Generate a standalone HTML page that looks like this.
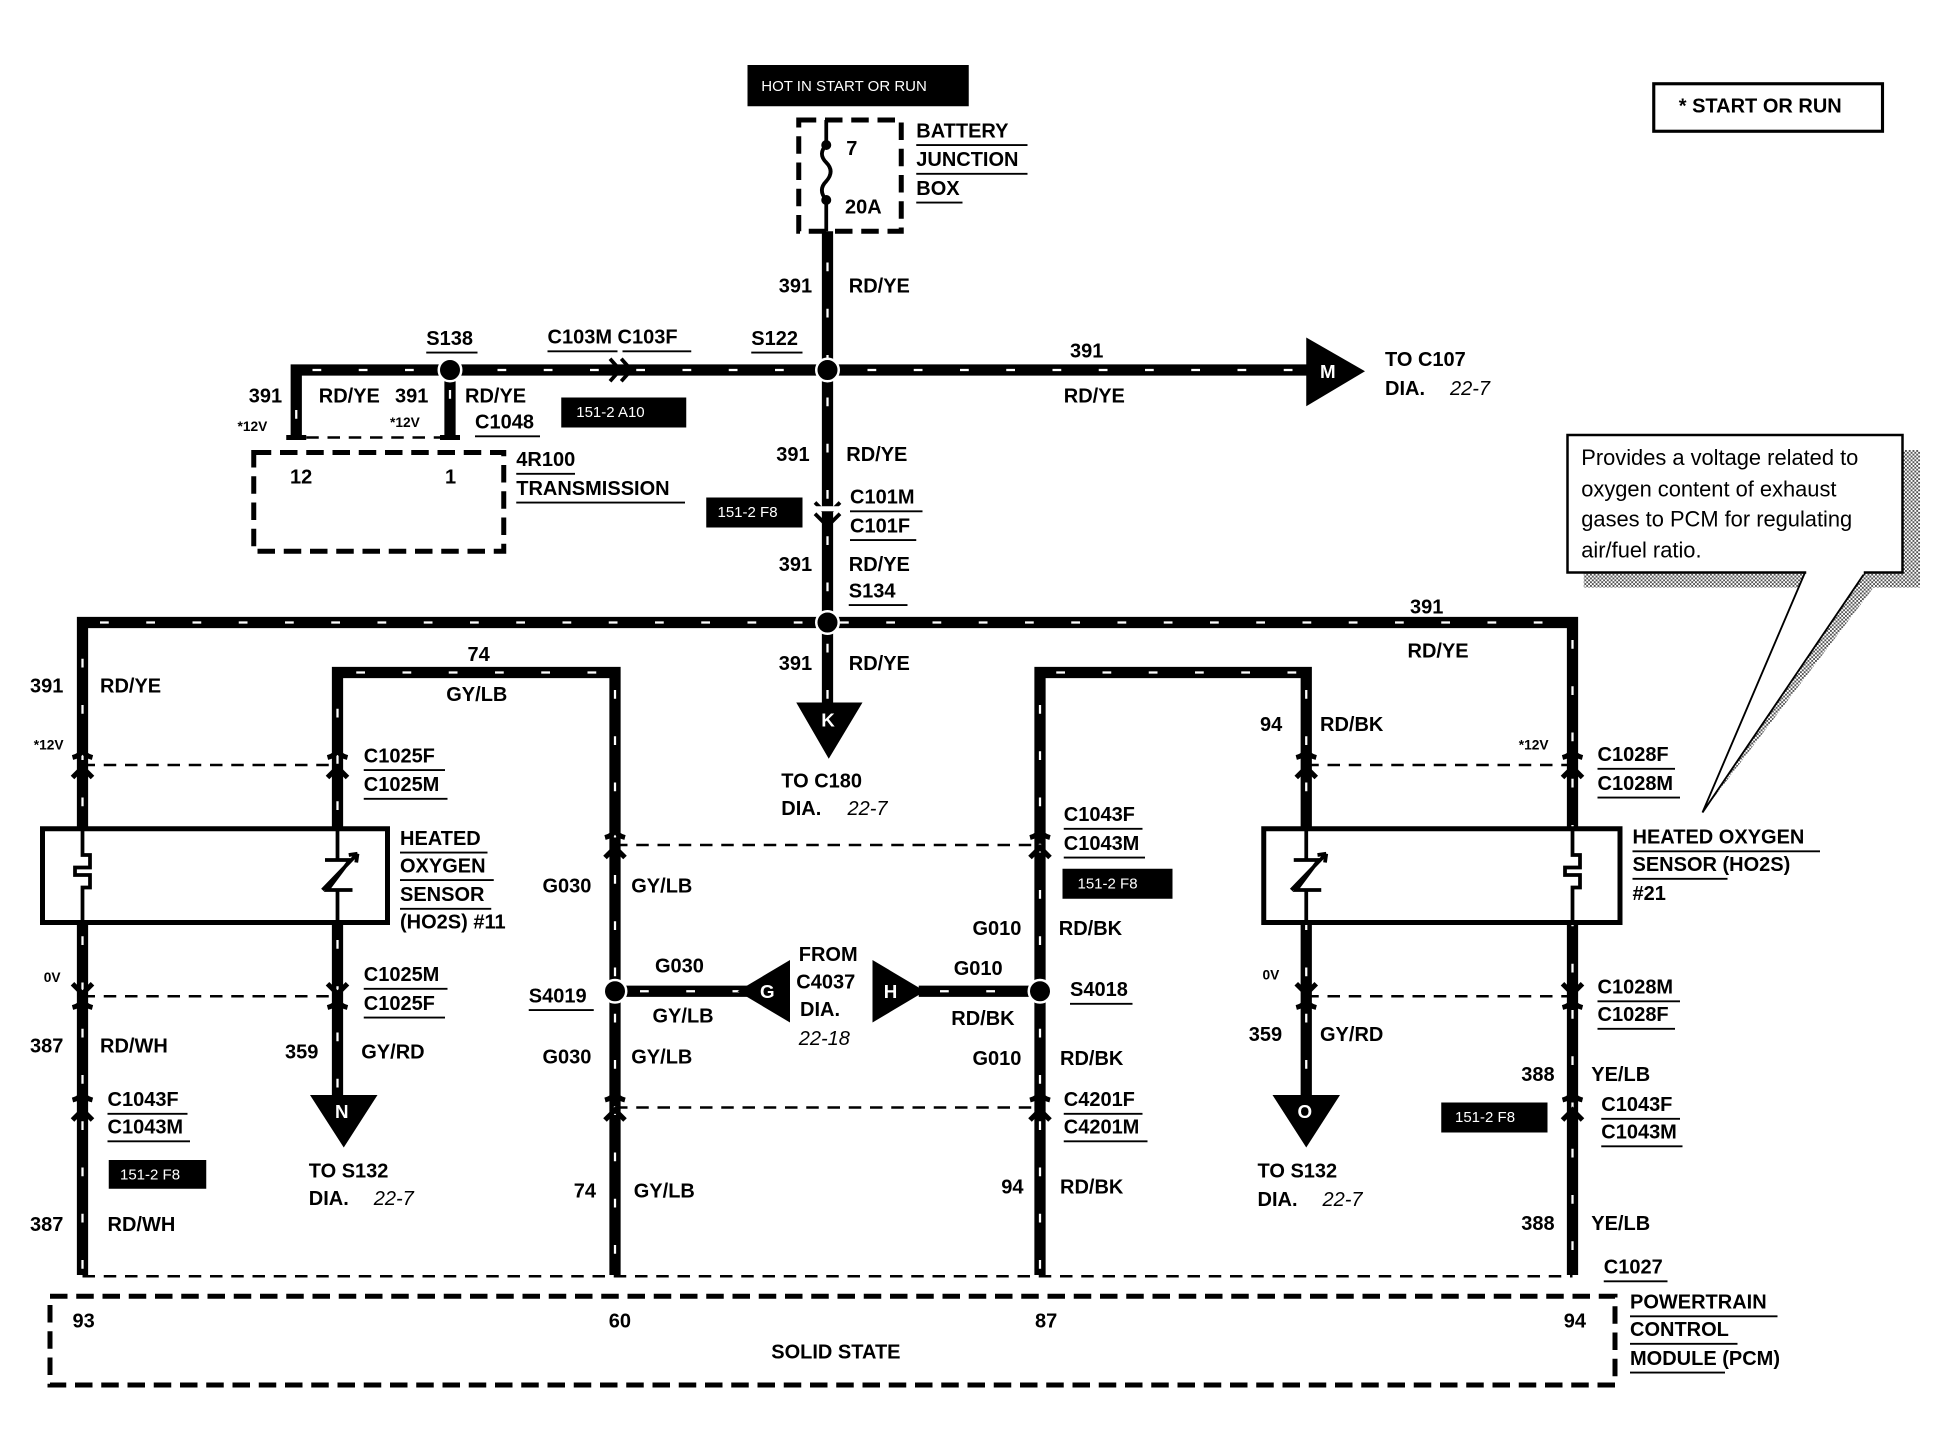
<!DOCTYPE html>
<html><head><meta charset="utf-8"><style>
html,body{margin:0;padding:0;background:#fff}
svg{display:block}
text{font-family:"Liberation Sans",Arial,sans-serif;font-weight:bold;font-size:16px;fill:#000;dominant-baseline:central}
.s{font-size:11px}
.r{font-weight:normal;font-size:17.5px;dominant-baseline:auto}
.i{font-style:italic;font-weight:normal}
.w{fill:#fff;font-weight:normal;font-size:12px}
.wb{fill:#fff;font-size:15px}
.wire{stroke:#000;stroke-width:9;fill:none}
.dash{stroke:#fff;stroke-width:1.8;fill:none;stroke-dasharray:7 30}
.db{stroke:#000;stroke-width:4;fill:none;stroke-dasharray:14 7}
.dl{stroke:#000;stroke-width:2;fill:none;stroke-dasharray:10 7}
.ul{stroke:#000;stroke-width:1.5}
</style></head><body>
<svg width="1958" height="1456" viewBox="0 0 1566.4 1164.8" xmlns="http://www.w3.org/2000/svg">
<defs>
<pattern id="dither" width="3" height="3" patternUnits="userSpaceOnUse"><rect width="3" height="3" fill="#fff"/><rect width="1.5" height="1.5" fill="#555"/><rect x="1.5" y="1.5" width="1.5" height="1.5" fill="#555"/></pattern>
</defs>

<rect x="598" y="52" width="177" height="33" fill="#000"/>
<text x="609" y="69" class="w">HOT IN START OR RUN</text>
<rect x="1323" y="67" width="183" height="38" fill="#fff" stroke="#000" stroke-width="2.5"/>
<text x="1343" y="85">*  START OR RUN</text>

<rect x="639" y="96" width="82" height="89" class="db"/>
<path d="M661 96 V116 M661 160 V185" stroke="#000" stroke-width="3"/>
<path d="M661 116 q-7 7 0 14 q7 7 0 15 q-7 7 0 15" stroke="#000" stroke-width="3" fill="none"/>
<circle cx="661" cy="116" r="4"/><circle cx="661" cy="160" r="4"/>
<text x="677" y="119">7</text><text x="676" y="166">20A</text>
<text x="733" y="105">BATTERY</text><text x="733" y="128">JUNCTION</text><text x="733" y="151">BOX</text>
<path class="ul" d="M733 116H822M733 139H822M733 162H770"/>

<g>
<path class="wire" d="M662 185V296"/><path class="dash" d="M662 210V296"/>
<path class="wire" d="M237 350V296H1048"/><path class="dash" d="M237 335V305M250 296H1040"/>
<path class="wire" d="M360 296V350"/><path class="dash" d="M360 312V345"/>
<path class="wire" d="M662 296V498"/><path class="dash" d="M662 318V495"/>
<path class="wire" d="M66 1020V498H1258V1020"/><path class="dash" d="M66 1015V510M80 498H1250M1258 512V1015"/>
<path class="wire" d="M662 498V565"/><path class="dash" d="M662 515V560"/>
<path class="wire" d="M270 878V538H492V1020"/><path class="dash" d="M270 870V555M285 538H485M492 552V1015"/>
<path class="wire" d="M832 1020V538H1045V878"/><path class="dash" d="M832 1015V555M845 538H1038M1045 552V870"/>
<path class="wire" d="M492 793H600"/><path class="dash" d="M512 793H595"/>
<path class="wire" d="M735 793H832"/><path class="dash" d="M752 793H825"/>
</g>
<g fill="#000" stroke="#fff" stroke-width="2">
<circle cx="360" cy="296" r="9"/><circle cx="662" cy="296" r="9"/><circle cx="662" cy="498" r="9"/>
<circle cx="492" cy="793" r="9"/><circle cx="832" cy="793" r="9"/>
</g>
<path d="M488 287 l8 9 l-8 9 M497 287 l8 9 l-8 9" stroke="#000" stroke-width="3" fill="none"/>
<path d="M652 402 l10 10 l10 -10 M652 411 l10 10 l10 -10" stroke="#000" stroke-width="3" fill="none"/>
<rect x="652" y="405" width="20" height="4" fill="#fff"/>

<path d="M229 350H245M352 350H368" stroke="#000" stroke-width="4"/>
<path class="dl" d="M245 350H352"/>
<rect x="203" y="362" width="200" height="79" class="db"/>
<text x="232" y="382">12</text><text x="356" y="382">1</text>
<text x="413" y="368">4R100</text><text x="413" y="391">TRANSMISSION</text>
<path class="ul" d="M413 379H460M413 402H548"/>
<rect x="449" y="318" width="100" height="24" fill="#000"/><text x="461" y="330" class="w">151-2 A10</text>

<path d="M1045 270L1092 297L1045 325Z"/><text x="1056" y="297" class="wb">M</text>
<path d="M637 562H690L663 607Z"/><text x="657" y="576" class="wb">K</text>
<path d="M248 876H302L275 918Z"/><text x="268" y="889" class="wb">N</text>
<path d="M1018 876H1072L1045 918Z"/><text x="1038" y="889" class="wb">O</text>
<path d="M590 793L632 768V818Z"/><text x="608" y="793" class="wb">G</text>
<path d="M740 793L698 768V818Z"/><text x="707" y="793" class="wb">H</text>

<g stroke="#000" stroke-width="4" fill="none">
<path d="M58 606 q8 -2 8 -8 q0 6 8 8 M58 622 l8 -8 l8 8"/>
<path d="M262 606 q8 -2 8 -8 q0 6 8 8 M262 622 l8 -8 l8 8"/>
<path d="M1037 606 q8 -2 8 -8 q0 6 8 8 M1037 622 l8 -8 l8 8"/>
<path d="M1250 606 q8 -2 8 -8 q0 6 8 8 M1250 622 l8 -8 l8 8"/>
<path d="M58 787 l8 8 l8 -8 M58 806 q8 -2 8 -8 q0 6 8 8"/>
<path d="M262 787 l8 8 l8 -8 M262 806 q8 -2 8 -8 q0 6 8 8"/>
<path d="M1037 787 l8 8 l8 -8 M1037 806 q8 -2 8 -8 q0 6 8 8"/>
<path d="M1250 787 l8 8 l8 -8 M1250 806 q8 -2 8 -8 q0 6 8 8"/>
<path d="M484 670 q8 -2 8 -8 q0 6 8 8 M484 686 l8 -8 l8 8"/>
<path d="M824 670 q8 -2 8 -8 q0 6 8 8 M824 686 l8 -8 l8 8"/>
<path d="M58 880 q8 -2 8 -8 q0 6 8 8 M58 896 l8 -8 l8 8"/>
<path d="M484 880 q8 -2 8 -8 q0 6 8 8 M484 896 l8 -8 l8 8"/>
<path d="M824 880 q8 -2 8 -8 q0 6 8 8 M824 896 l8 -8 l8 8"/>
<path d="M1250 880 q8 -2 8 -8 q0 6 8 8 M1250 896 l8 -8 l8 8"/>
</g>
<path class="dl" d="M66 612H270M1045 612H1258M66 797H270M1045 797H1258M492 676H832M492 886H832M66 1021H1258"/>

<rect x="34" y="663" width="276" height="75" fill="#fff" stroke="#000" stroke-width="4"/>
<rect x="1011" y="663" width="285" height="75" fill="#fff" stroke="#000" stroke-width="4"/>
<path d="M66 663V684H72V694H60V700H72V710H66V738" stroke="#000" stroke-width="3" fill="none"/>
<path d="M1258 663V684H1264V694H1252V700H1264V710H1258V738" stroke="#000" stroke-width="3" fill="none"/>
<g stroke="#000" stroke-width="3" fill="none">
<path d="M270 663V688M260 688H280L262 712H282M270 712V738M258 712L286 683M286 683l-7 1M286 683l-1 7"/>
<path d="M1045 663V688M1035 688H1055L1037 712H1057M1045 712V738M1033 712L1061 683M1061 683l-7 1M1061 683l-1 7"/>
</g>

<rect x="40" y="1037" width="1252" height="71" class="db"/>
<text x="58" y="1057">93</text><text x="487" y="1057">60</text><text x="828" y="1057">87</text><text x="1251" y="1057">94</text>
<text x="617" y="1082">SOLID STATE</text>
<text x="1304" y="1042">POWERTRAIN</text><text x="1304" y="1064">CONTROL</text><text x="1304" y="1087">MODULE (PCM)</text>
<path class="ul" d="M1304 1053H1422M1304 1075H1390M1304 1098H1380"/>

<rect x="565" y="398" width="77" height="24" fill="#000"/><text x="574" y="410" class="w">151-2 F8</text>
<rect x="87" y="928" width="78" height="23" fill="#000"/><text x="96" y="940" class="w">151-2 F8</text>
<rect x="850" y="695" width="88" height="24" fill="#000"/><text x="862" y="707" class="w">151-2 F8</text>
<rect x="1153" y="882" width="85" height="24" fill="#000"/><text x="1164" y="894" class="w">151-2 F8</text>

<path d="M1267 458H1536V470H1267Z" fill="url(#dither)"/>
<path d="M1522 360H1536V470H1522Z" fill="url(#dither)"/>
<path d="M1470 458L1362 650L1508 458Z" fill="url(#dither)"/>
<path d="M1444 458L1362 650L1492 458Z" fill="#fff" stroke="#000" stroke-width="1.5"/>
<rect x="1254" y="348" width="268" height="110" fill="#fff" stroke="#000" stroke-width="2"/>
<path d="M1445 458H1491" stroke="#fff" stroke-width="3"/>
<text x="1265" y="372" class="r">Provides a voltage related to</text>
<text x="1265" y="397" class="r">oxygen content of exhaust</text>
<text x="1265" y="421" class="r">gases to PCM for regulating</text>
<text x="1265" y="446" class="r">air/fuel ratio.</text>

<text x="623" y="229">391</text><text x="679" y="229">RD/YE</text>
<text x="341" y="271">S138</text><text x="438" y="270">C103M C103F</text><text x="601" y="271">S122</text>
<path class="ul" d="M341 282H382M438 281H494M498 281H553M601 282H642"/>
<text x="856" y="281">391</text><text x="851" y="317">RD/YE</text>
<text x="1108" y="288">TO C107</text><text x="1108" y="311">DIA.</text><text x="1160" y="311" class="i">22-7</text>
<text x="199" y="317">391</text><text x="255" y="317">RD/YE</text><text x="316" y="317">391</text><text x="372" y="317">RD/YE</text>
<text x="380" y="338">C1048</text><path class="ul" d="M380 349H432"/>
<text x="190" y="341" class="s">*12V</text><text x="312" y="338" class="s">*12V</text>
<text x="621" y="364">391</text><text x="677" y="364">RD/YE</text>
<text x="680" y="398">C101M</text><text x="680" y="421">C101F</text><path class="ul" d="M680 409H738M680 432H733"/>
<text x="623" y="452">391</text><text x="679" y="452">RD/YE</text>
<text x="679" y="473">S134</text><path class="ul" d="M679 484H726"/>
<text x="1128" y="486">391</text><text x="1126" y="521">RD/YE</text>
<text x="623" y="531">391</text><text x="679" y="531">RD/YE</text>
<text x="625" y="625">TO C180</text><text x="625" y="647">DIA.</text><text x="678" y="647" class="i">22-7</text>
<text x="24" y="549">391</text><text x="80" y="549">RD/YE</text><text x="27" y="596" class="s">*12V</text>
<text x="374" y="524">74</text><text x="357" y="556">GY/LB</text>
<text x="291" y="605">C1025F</text><text x="291" y="628">C1025M</text><path class="ul" d="M291 616H356M291 639H358"/>
<text x="320" y="671">HEATED</text><text x="320" y="693">OXYGEN</text><text x="320" y="716">SENSOR</text><text x="320" y="738">(HO2S)  #11</text>
<path class="ul" d="M320 682H390M320 704H395M320 727H393"/>
<text x="35" y="782" class="s">0V</text>
<text x="291" y="780">C1025M</text><text x="291" y="803">C1025F</text><path class="ul" d="M291 791H358M291 814H356"/>
<text x="24" y="837">387</text><text x="80" y="837">RD/WH</text>
<text x="228" y="842">359</text><text x="289" y="842">GY/RD</text>
<text x="86" y="880">C1043F</text><text x="86" y="902">C1043M</text><path class="ul" d="M86 891H150M86 913H152"/>
<text x="24" y="980">387</text><text x="86" y="980">RD/WH</text>
<text x="247" y="937">TO S132</text><text x="247" y="959">DIA.</text><text x="299" y="959" class="i">22-7</text>
<text x="434" y="709">G030</text><text x="505" y="709">GY/LB</text>
<text x="423" y="797">S4019</text><path class="ul" d="M423 808H475"/>
<text x="524" y="773">G030</text><text x="522" y="813">GY/LB</text>
<text x="434" y="846">G030</text><text x="505" y="846">GY/LB</text>
<text x="459" y="953">74</text><text x="507" y="953">GY/LB</text>
<text x="639" y="764">FROM</text><text x="637" y="786">C4037</text><text x="640" y="808">DIA.</text><text x="639" y="831" class="i">22-18</text>
<text x="763" y="775">G010</text><text x="761" y="815">RD/BK</text>
<text x="856" y="792">S4018</text><path class="ul" d="M856 803H906"/>
<text x="851" y="652">C1043F</text><text x="851" y="675">C1043M</text><path class="ul" d="M851 663H914M851 686H916"/>
<text x="778" y="743">G010</text><text x="847" y="743">RD/BK</text>
<text x="778" y="847">G010</text><text x="848" y="847">RD/BK</text>
<text x="851" y="880">C4201F</text><text x="851" y="902">C4201M</text><path class="ul" d="M851 891H914M851 913H918"/>
<text x="801" y="950">94</text><text x="848" y="950">RD/BK</text>
<text x="1008" y="580">94</text><text x="1056" y="580">RD/BK</text>
<text x="1215" y="596" class="s">*12V</text>
<text x="1278" y="604">C1028F</text><text x="1278" y="627">C1028M</text><path class="ul" d="M1278 615H1340M1278 638H1344"/>
<text x="1306" y="670">HEATED OXYGEN</text><text x="1306" y="692">SENSOR (HO2S)</text><text x="1306" y="715">#21</text>
<path class="ul" d="M1306 681H1456M1306 703H1382"/>
<text x="1010" y="780" class="s">0V</text>
<text x="999" y="828">359</text><text x="1056" y="828">GY/RD</text>
<text x="1006" y="937">TO S132</text><text x="1006" y="960">DIA.</text><text x="1058" y="960" class="i">22-7</text>
<text x="1278" y="790">C1028M</text><text x="1278" y="812">C1028F</text><path class="ul" d="M1278 801H1344M1278 823H1340"/>
<text x="1217" y="860">388</text><text x="1273" y="860">YE/LB</text>
<text x="1281" y="884">C1043F</text><text x="1281" y="906">C1043M</text><path class="ul" d="M1281 895H1344M1281 917H1346"/>
<text x="1217" y="979">388</text><text x="1273" y="979">YE/LB</text>
<text x="1283" y="1014">C1027</text><path class="ul" d="M1283 1025H1334"/>
</svg>
</body></html>
